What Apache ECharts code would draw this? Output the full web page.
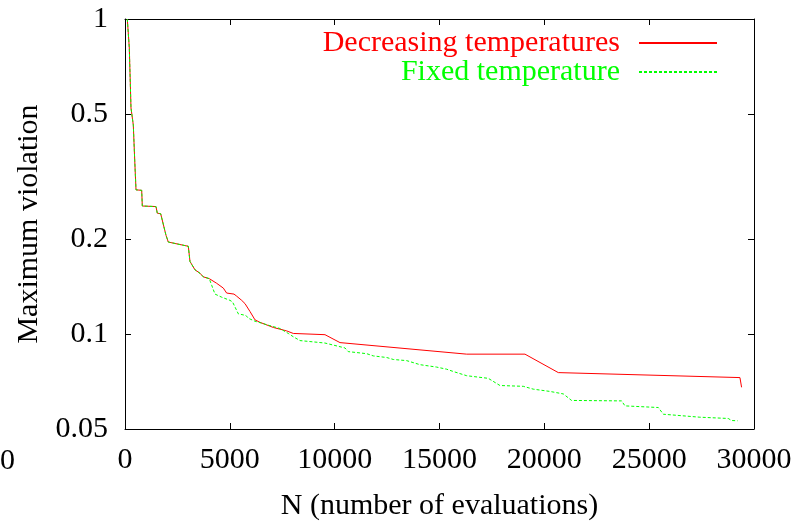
<!DOCTYPE html>
<html>
<head>
<meta charset="utf-8">
<script src="https://cdn.jsdelivr.net/npm/echarts@6/dist/echarts.min.js"></script>
<style>html,body{margin:0;padding:0;background:#fff}#c{width:803px;height:521px}</style>
</head>
<body>
<div id="c"></div>
<script>
var seriesNames = ['Decreasing temperatures', 'Fixed temperature'];
var xTickValues = [0, 5000, 10000, 15000, 20000, 25000, 30000];
var yTickValues = [0.05, 0.1, 0.2, 0.5, 1];

var nDecreasing = [110, 205, 286, 367, 396, 463, 525, 606, 796, 825, 1478, 1540, 1702, 1955, 2065, 3019, 3100, 3338, 3577, 3735, 4020, 4371, 4689, 4848, 5198, 5325, 5565, 5723, 5961, 6200, 6438, 7073, 7709, 8027, 9538, 10254, 16296, 19076, 20666, 29330, 29408];
var vDecreasing = [1.0, 0.809, 0.522, 0.518, 0.461, 0.357, 0.287, 0.286, 0.286, 0.255, 0.254, 0.242, 0.241, 0.206, 0.196, 0.190, 0.170, 0.160, 0.156, 0.152, 0.150, 0.145, 0.140, 0.135, 0.134, 0.132, 0.128, 0.125, 0.118, 0.111, 0.109, 0.105, 0.1024, 0.1005, 0.0996, 0.094, 0.0864, 0.0864, 0.0755, 0.0728, 0.0678];

var nFixed = [110, 205, 286, 367, 396, 463, 525, 606, 796, 825, 1478, 1540, 1702, 1955, 2065, 3019, 3100, 3338, 3577, 3735, 4020, 4133, 4292, 4610, 5007, 5130, 5404, 5770, 5882, 6200, 6915, 7392, 7788, 8027, 8346, 9538, 10492, 10650, 11525, 11843, 12479, 12797, 13433, 14068, 14863, 15340, 15658, 16296, 17326, 17884, 18996, 19472, 20268, 20906, 21300, 23686, 23846, 25436, 25675, 27420, 28770, 28930, 29220];
var vFixed = [1.0, 0.809, 0.522, 0.518, 0.461, 0.357, 0.287, 0.286, 0.286, 0.255, 0.254, 0.242, 0.241, 0.206, 0.196, 0.190, 0.170, 0.160, 0.156, 0.152, 0.150, 0.143, 0.134, 0.131, 0.128, 0.1265, 0.116, 0.1146, 0.1123, 0.1099, 0.1064, 0.1042, 0.1005, 0.0981, 0.0954, 0.0937, 0.0904, 0.0880, 0.0867, 0.0853, 0.0843, 0.0831, 0.0824, 0.0800, 0.0786, 0.0774, 0.0761, 0.0738, 0.0724, 0.0687, 0.0683, 0.0669, 0.0658, 0.0646, 0.0616, 0.0614, 0.0592, 0.0585, 0.0557, 0.0545, 0.0540, 0.0532, 0.0531];

function pairs(xs, ys) { return xs.map(function (x, i) { return [x, ys[i]]; }); }

var FONT = '"Liberation Serif", "Times New Roman", serif';
var FS = 30;
var chart = echarts.init(document.getElementById('c'), null, { renderer: 'canvas' });

var tickStyle = { show: true, inside: true, length: 6, lineStyle: { color: '#000', width: 1 } };
var lineStyleAxis = { show: true, onZero: false, lineStyle: { color: '#000', width: 1 } };

function legendFor(i, color, top) {
  return {
    data: [{ name: seriesNames[i], textStyle: { color: color } }],
    right: 85, top: top, align: 'right', itemWidth: 78, itemHeight: 14, itemGap: 0,
    itemStyle: { opacity: 0 },
    textStyle: { fontFamily: FONT, fontSize: FS, padding: [0, 14, 0, 0] },
    selectedMode: false, padding: 0
  };
}

chart.setOption({
  animation: false,
  backgroundColor: '#fff',
  grid: { left: 125, right: 49, top: 19, bottom: 92, show: false, containLabel: false, outerBoundsMode: 'none' },
  legend: [legendFor(0, '#ff0000', 28), legendFor(1, '#00ff00', 57)],
  xAxis: [
    {
      type: 'value', min: xTickValues[0], max: xTickValues[xTickValues.length - 1], interval: 5000,
      position: 'bottom',
      name: 'N (number of evaluations)', nameLocation: 'middle', nameGap: 62,
      nameTextStyle: { fontFamily: FONT, fontSize: FS, color: '#000' },
      axisLine: lineStyleAxis, axisTick: tickStyle, splitLine: { show: false },
      axisLabel: { fontFamily: FONT, fontSize: FS, color: '#000', margin: 16,
        formatter: function (v) { return String(v); } }
    },
    {
      type: 'value', min: xTickValues[0], max: xTickValues[xTickValues.length - 1], interval: 5000,
      position: 'top',
      axisLine: lineStyleAxis, axisTick: tickStyle, splitLine: { show: false },
      axisLabel: { show: false }
    }
  ],
  yAxis: [
    {
      type: 'log', logBase: 10, min: yTickValues[0], max: yTickValues[yTickValues.length - 1],
      position: 'left',
      name: 'Maximum violation', nameLocation: 'middle', nameGap: 79, nameRotate: 90,
      nameTextStyle: { fontFamily: FONT, fontSize: FS, color: '#000' },
      axisLine: lineStyleAxis,
      axisTick: Object.assign({ customValues: yTickValues }, tickStyle),
      splitLine: { show: false }, minorTick: { show: false },
      axisLabel: {
        customValues: yTickValues, fontFamily: FONT, fontSize: FS, color: '#000', margin: 17,
        formatter: function (v) { return String(+(+v).toPrecision(3)); }
      }
    },
    {
      type: 'log', logBase: 10, min: yTickValues[0], max: yTickValues[yTickValues.length - 1],
      position: 'right',
      axisLine: lineStyleAxis,
      axisTick: Object.assign({ customValues: yTickValues }, tickStyle),
      splitLine: { show: false },
      axisLabel: { show: false }
    }
  ],
  series: [
    {
      name: seriesNames[0], type: 'line', xAxisIndex: 0, yAxisIndex: 0,
      data: pairs(nDecreasing, vDecreasing), showSymbol: false, symbol: 'none',
      lineStyle: { color: '#ff0000', width: 1 }, itemStyle: { color: '#ff0000' }
    },
    {
      name: seriesNames[1], type: 'line', xAxisIndex: 0, yAxisIndex: 0,
      data: pairs(nFixed, vFixed), showSymbol: false, symbol: 'none',
      lineStyle: { color: '#00ff00', width: 1, type: [3, 2] }, itemStyle: { color: '#00ff00' }
    }
  ],
  graphic: [
    { type: 'text', left: 0, top: 446, style: { text: '0', font: FS + 'px ' + FONT, fill: '#000' } }
  ]
});
</script>
</body>
</html>
